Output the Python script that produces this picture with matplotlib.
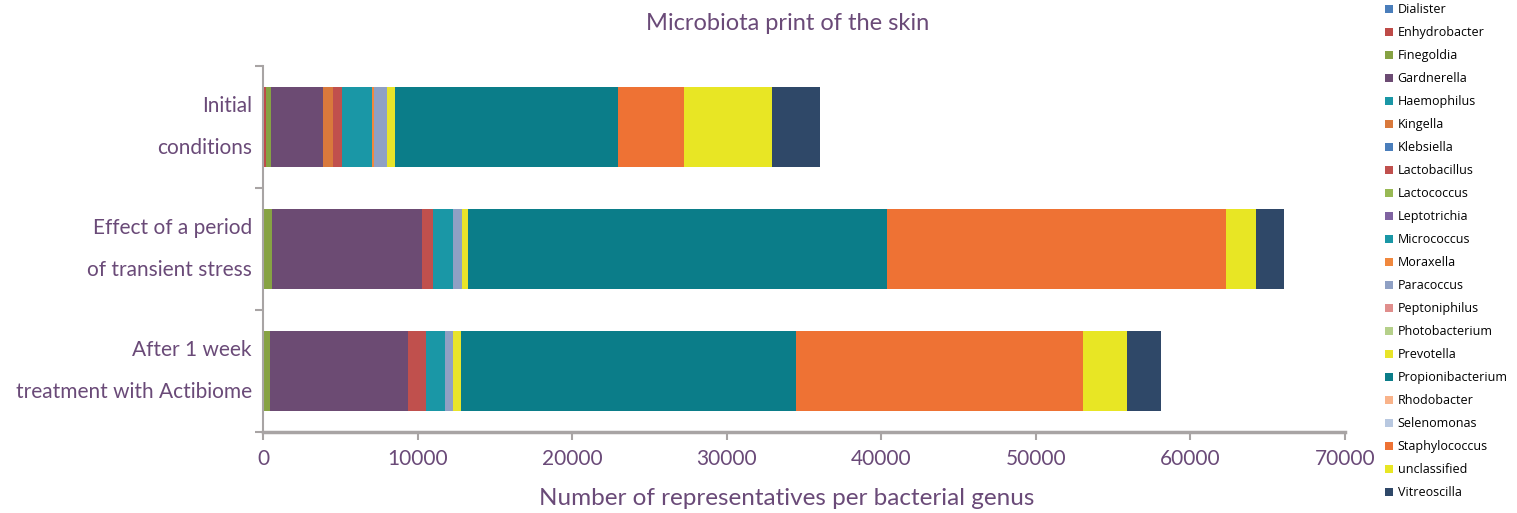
import matplotlib

matplotlib.use("Agg")

import matplotlib.pyplot as plt
import numpy as np
from matplotlib.patches import Patch


conditions = [
    "Initial\nconditions",
    "Effect of a period\nof transient stress",
    "After 1 week\ntreatment with Actibiome",
]

genera = [
    "Dialister", "Enhydrobacter", "Finegoldia", "Gardnerella", "Haemophilus",
    "Kingella", "Klebsiella", "Lactobacillus", "Lactococcus", "Leptotrichia",
    "Micrococcus", "Moraxella", "Paracoccus", "Peptoniphilus", "Photobacterium",
    "Prevotella", "Propionibacterium", "Rhodobacter", "Selenomonas",
    "Staphylococcus", "unclassified", "Vitreoscilla",
]

# counts per genus, same order as `genera`
initial = [0, 200, 320, 3380, 0, 650, 0, 580, 0, 0, 1900, 170, 800, 0, 0,
           540, 14410, 0, 0, 4310, 5690, 3100]
stress = [0, 0, 600, 9660, 0, 0, 0, 760, 0, 0, 1290, 0, 580, 0, 0,
          390, 27080, 0, 0, 21970, 1940, 1790]
after = [0, 0, 450, 8950, 0, 0, 0, 1120, 0, 0, 1250, 0, 540, 0, 0,
         500, 21670, 0, 0, 18580, 2810, 2220]

colors = [
    "#4A7EBB", "#BE4B48", "#86A243", "#6C4B73", "#1A97A6",
    "#D9793C", "#4A7EBB", "#C0504D", "#98B954", "#7F63A1",
    "#1A97A6", "#F0883E", "#8FA0C4", "#E08E8C", "#B5D08A",
    "#E8E42A", "#0B7D89", "#F9B38A", "#B8C8E0",
    "#EE7234", "#E8E624", "#2F4868",
]

TEXT = "#6A4A78"
AXIS = "#A8A4A4"

plt.rcParams["font.family"] = ["Lato", "DejaVu Sans"]

fig = plt.figure(figsize=(15.17, 5.13), dpi=100)
fig.patch.set_facecolor("white")
ax = fig.add_axes([0.1734, 0.158, 0.7132, 0.7135])

values = np.array([initial, stress, after])
y = np.arange(len(conditions))
left = np.zeros(len(conditions))
for i, name in enumerate(genera):
    ax.barh(y, values[:, i], left=left, height=0.66, color=colors[i],
            edgecolor="none", label=name)
    left += values[:, i]

ax.set_ylim(2.5, -0.5)
ax.set_xlim(0, 70000)
ax.set_xticks(np.arange(0, 70001, 10000))
ax.set_xticklabels([str(v) for v in range(0, 70001, 10000)],
                   color=TEXT, fontsize=15)
ax.set_yticks(y)
ax.set_yticklabels(conditions, color=TEXT, fontsize=15, linespacing=2.4,
                   ha="right", va="center")
ax.set_yticks([-0.5, 0.5, 1.5, 2.5], minor=True)
ax.tick_params(axis="y", which="major", length=0, pad=8)
ax.tick_params(axis="y", which="minor", length=6, width=1.5, color=AXIS,
               direction="out")
ax.tick_params(axis="x", length=6, width=1.5, color=AXIS, pad=6)

for side in ["top", "right"]:
    ax.spines[side].set_visible(False)
ax.spines["left"].set_color(AXIS)
ax.spines["left"].set_linewidth(1.5)
ax.spines["bottom"].set_color(AXIS)
ax.spines["bottom"].set_linewidth(2.5)

ax.set_xlabel("Number of representatives per bacterial genus", color=TEXT,
              fontsize=17.5, va="center")
ax.xaxis.set_label_coords(0.484, -0.181)
fig.text(0.519, 0.955, "Microbiota print of the skin", color=TEXT,
         fontsize=17, ha="center", va="center")

handles = [Patch(facecolor=c, edgecolor="none") for c in colors]
fig.legend(handles, genera, loc="upper left",
           bbox_to_anchor=(0.909, 1.006), frameon=False,
           prop={"family": "Open Sans", "size": 9},
           handlelength=0.6, handleheight=0.6, handletextpad=0.4,
           labelspacing=0.80, borderpad=0)

fig.savefig("out.png", dpi=100, facecolor="white")
plt.close(fig)
